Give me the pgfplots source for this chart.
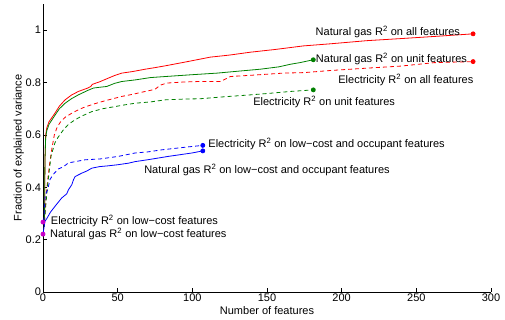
\documentclass[border=0pt]{standalone}
\usepackage{fontspec}
\setmainfont{Liberation Sans}
\usepackage{pgfplots}
\pgfplotsset{compat=1.18}
\definecolor{mred}{rgb}{1,0,0}
\definecolor{mgreen}{rgb}{0,0.5,0}
\definecolor{mblue}{rgb}{0,0,1}
\definecolor{mmag}{rgb}{0.78,0,0.78}
\begin{document}
\begin{tikzpicture}[font=\fontsize{11}{13}\selectfont]
\begin{axis}[name=ax,
  scale only axis, width=448pt, height=288pt,
  xmin=0, xmax=300, ymin=0, ymax=1.1,
  axis x line*=bottom, axis y line*=left,
  axis line style={-, black},
  xtick={0,50,100,150,200,250,300},
  ytick={0,0.2,0.4,0.6,0.8,1},
  tick align=inside, major tick length=4pt,
  tick style={black, line width=0.5pt},
  /pgf/number format/assume math mode=true,
  xlabel={Number of features},
  ylabel={Fraction of explained variance},
  xlabel style={yshift=2pt},
  ylabel style={yshift=-5pt},
  xticklabel style={yshift=1.5pt},
  yticklabel style={xshift=1.5pt},
  every axis plot/.append style={line width=0.8pt},
  clip=false,
]
% Natural gas, all features (red solid)
\addplot[mred, no marks] coordinates {
(1,0.25)(1.3,0.50)(1.8,0.60)(2.5,0.626)(4,0.65)(8,0.683)(11,0.71)(14.8,0.734)(19,0.752)(23.7,0.766)(30,0.779)(32,0.785)(33,0.793)(34,0.795)(38,0.803)(43.8,0.817)(48,0.827)(52.8,0.836)(60,0.842)(68.5,0.851)(75,0.857)(82,0.864)(95,0.878)(112,0.897)(125,0.905)(139,0.916)(155,0.926)(174.5,0.940)(192.6,0.948)(217,0.960)(240,0.968)(262,0.976)(288,0.986)};
% Natural gas, unit features (green solid)
\addplot[mgreen, no marks] coordinates {
(1,0.25)(1.3,0.50)(1.8,0.59)(2.5,0.615)(4,0.64)(8,0.675)(11,0.70)(14.8,0.721)(19,0.738)(23.7,0.753)(30,0.770)(33.8,0.779)(38,0.782)(42.7,0.785)(48,0.797)(52.8,0.804)(61.7,0.810)(72,0.819)(82,0.823)(100,0.830)(116.6,0.836)(130,0.843)(145.6,0.851)(158,0.860)(165.8,0.870)(172,0.876)(181,0.887)};
% Electricity, all features (red dashed)
\addplot[mred, dash pattern=on 4pt off 3pt, no marks] coordinates {
(1,0.27)(2,0.36)(3,0.42)(4.2,0.48)(6,0.55)(7.6,0.60)(9.5,0.63)(12,0.652)(15,0.668)(19.3,0.683)(24,0.697)(28.2,0.707)(34,0.718)(39.4,0.727)(46,0.737)(52.8,0.747)(60,0.755)(68.5,0.766)(75,0.774)(78.5,0.790)(83,0.798)(94,0.802)(105,0.804)(118.8,0.804)(125.5,0.823)(140,0.828)(161,0.836)(175,0.838)(192.6,0.846)(217,0.855)(240,0.863)(262,0.876)(288,0.880)};
% Electricity, unit features (green dashed)
\addplot[mgreen, dash pattern=on 4pt off 3pt, no marks] coordinates {
(1,0.27)(2,0.34)(3.1,0.41)(5.4,0.52)(8,0.57)(10,0.59)(13.6,0.619)(17,0.64)(21.5,0.658)(26,0.672)(32.7,0.689)(40,0.700)(46,0.706)(55,0.715)(61.7,0.721)(72,0.726)(82,0.734)(95,0.737)(105,0.738)(120,0.745)(139,0.753)(150,0.758)(165.8,0.766)(181,0.772)};
% Electricity, low-cost and occupant (blue dashed)
\addplot[mblue, dash pattern=on 4pt off 3pt, no marks] coordinates {
(0.5,0.27)(1,0.32)(1.5,0.37)(3.1,0.39)(4.7,0.43)(7,0.45)(10.3,0.47)(13.6,0.478)(17,0.493)(22.6,0.499)(28.2,0.505)(38,0.508)(50.5,0.518)(61.7,0.531)(70,0.535)(79.6,0.543)(95.3,0.553)(107,0.560)};
% Natural gas, low-cost and occupant (blue solid)
\addplot[mblue, no marks] coordinates {
(0,0.221)(1.3,0.27)(2.5,0.28)(5,0.305)(8,0.327)(12.5,0.359)(15.9,0.375)(17,0.39)(19.3,0.41)(20.5,0.43)(21.5,0.441)(26,0.454)(29.3,0.462)(32.7,0.473)(38,0.479)(43.8,0.482)(50,0.486)(57.2,0.492)(61.7,0.498)(70,0.505)(84,0.518)(99.8,0.531)(107,0.539)};
% end-point markers
\addplot[only marks, mark=*, mark size=2pt, mred] coordinates {(288,0.986)(288,0.880)};
\addplot[only marks, mark=*, mark size=2pt, mgreen] coordinates {(181,0.887)(181,0.772)};
\addplot[only marks, mark=*, mark size=2pt, mblue] coordinates {(107,0.560)(107,0.539)};
\addplot[only marks, mark=*, mark size=2pt, mmag] coordinates {(0,0.267)(0,0.221)};
% labels
\node[anchor=east, inner sep=1pt] at (axis cs:280,0.995) {Natural gas R\textsuperscript{2} on all features};
\node[anchor=west, inner sep=1pt] at (axis cs:182,0.89) {Natural gas R\textsuperscript{2} on unit features};
\node[anchor=east, inner sep=1pt] at (axis cs:289,0.81) {Electricity R\textsuperscript{2} on all features};
\node[anchor=west, inner sep=1pt] at (axis cs:140,0.725) {Electricity R\textsuperscript{2} on unit features};
\node[anchor=west, inner sep=1pt] at (axis cs:110,0.565) {Electricity R\textsuperscript{2} on low−cost and occupant features};
\node[anchor=west, inner sep=1pt] at (axis cs:67,0.467) {Natural gas R\textsuperscript{2} on low−cost and occupant features};
\node[anchor=west, inner sep=1pt] at (axis cs:4.5,0.272) {Electricity R\textsuperscript{2} on low−cost features};
\node[anchor=west, inner sep=1pt] at (axis cs:4,0.221) {Natural gas R\textsuperscript{2} on low−cost features};
\end{axis}
\path ([shift={(-43pt,-28pt)}]ax.south west) rectangle ([shift={(14pt,4pt)}]ax.north east);
\end{tikzpicture}
\end{document}
